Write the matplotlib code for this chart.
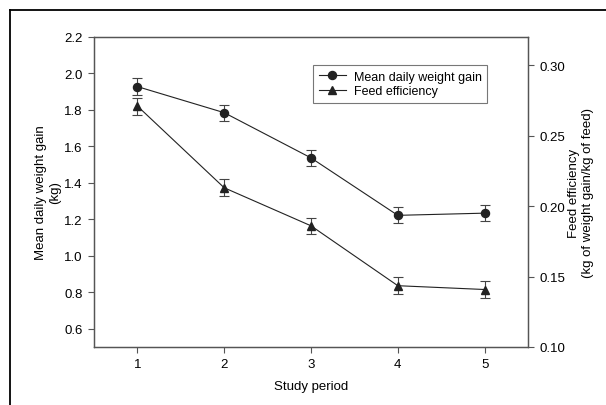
import matplotlib
matplotlib.use("Agg")
import matplotlib.pyplot as plt
from matplotlib.lines import Line2D

plt.rcParams["font.family"] = ["Liberation Sans", "DejaVu Sans"]

periods = [1, 2, 3, 4, 5]
gain = [1.928, 1.785, 1.537, 1.222, 1.234]
gain_err = [0.045, 0.044, 0.043, 0.044, 0.045]
feed_eff = [0.271, 0.213, 0.186, 0.1435, 0.1408]
feed_err = [0.006, 0.006, 0.0055, 0.006, 0.0062]

W, H = 606, 406
fig = plt.figure(figsize=(W / 100, H / 100), dpi=100)
ax1 = fig.add_axes([94 / W, 1 - 348 / H, 434 / W, 310 / H])
ax2 = ax1.twinx()

line_c = "#222222"
err_c = "#444444"
spine_c = "#555555"

ax1.errorbar(periods, gain, yerr=gain_err, color=line_c, ecolor=err_c,
             marker="o", markersize=5.8, linewidth=0.8, elinewidth=0.8,
             capsize=3.5, capthick=0.8, zorder=3)
ax2.errorbar(periods, feed_eff, yerr=feed_err, color=line_c, ecolor=err_c,
             marker="^", markersize=5.8, linewidth=0.8, elinewidth=0.8,
             capsize=3.5, capthick=0.8, zorder=3)

ax1.set_xlim(0.5, 5.5)
ax1.set_ylim(0.5, 2.2)
ax2.set_ylim(0.10, 0.32)
ax1.set_xticks(periods)
ax1.set_yticks([0.6, 0.8, 1.0, 1.2, 1.4, 1.6, 1.8, 2.0, 2.2])
ax1.set_yticklabels(["%.1f" % v for v in ax1.get_yticks()])
ax2.set_yticks([0.10, 0.15, 0.20, 0.25, 0.30])
ax2.set_yticklabels(["%.2f" % v for v in ax2.get_yticks()])

for ax in (ax1, ax2):
    for s in ax.spines.values():
        s.set_color(spine_c)
        s.set_linewidth(0.9)
    ax.tick_params(direction="out", length=4.5, width=0.8, color=spine_c,
                   labelsize=9.5, pad=3.5)

ax1.set_xlabel("Study period", fontsize=9.5)
ax1.xaxis.set_label_coords(0.5, -(381 - 348) / 310)
ax1.set_ylabel("Mean daily weight gain\n(kg)", fontsize=9.5, linespacing=1.25)
ax1.yaxis.set_label_coords(-(94 - 61) / 434, 0.5)
ax2.set_ylabel("Feed efficiency\n(kg of weight gain/kg of feed)", fontsize=9.5,
               linespacing=1.25)
ax2.yaxis.set_label_coords(1 + (568 - 528) / 434, 0.5)

handles = [
    Line2D([], [], color=line_c, marker="o", markersize=5.8, linewidth=0.8),
    Line2D([], [], color=line_c, marker="^", markersize=5.8, linewidth=0.8),
]
leg = fig.legend(handles, ["Mean daily weight gain", "Feed efficiency"],
                 loc="upper left", bbox_to_anchor=(313 / W, 1 - 66 / H),
                 fontsize=9, frameon=True, fancybox=False, borderpad=0.45,
                 handlelength=2.2, handletextpad=0.6, labelspacing=0.2,
                 borderaxespad=0)
leg.get_frame().set_edgecolor(spine_c)
leg.get_frame().set_linewidth(0.8)

# outer frame of the figure panel
fig.add_artist(Line2D([10 / W, 10 / W], [0, 1 - 11 / H],
                      transform=fig.transFigure, color="k", linewidth=1.3))
fig.add_artist(Line2D([10 / W, 1], [1 - 11 / H, 1 - 11 / H],
                      transform=fig.transFigure, color="k", linewidth=1.3))

fig.savefig("out.png", dpi=100, facecolor="w")
